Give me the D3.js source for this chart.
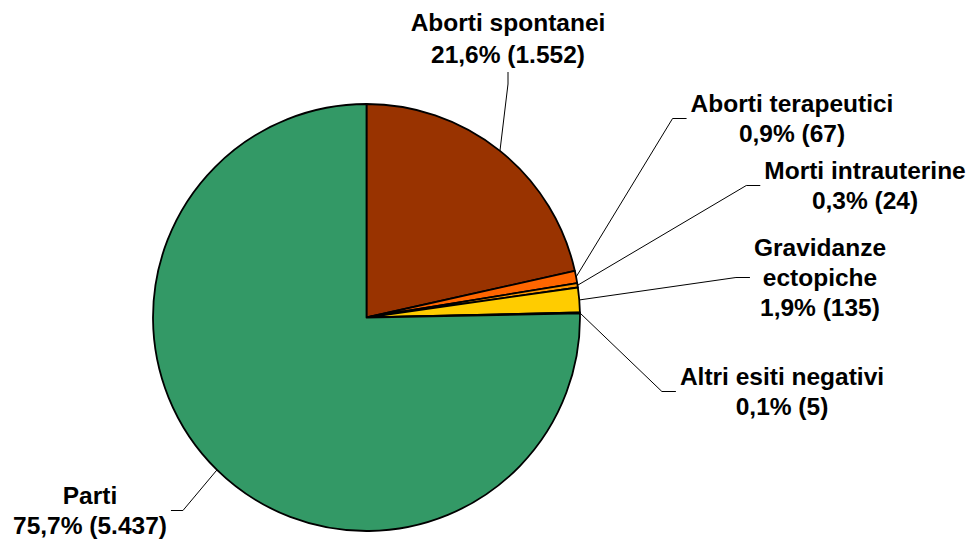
<!DOCTYPE html>
<html>
<head>
<meta charset="utf-8">
<script src="https://cdn.jsdelivr.net/npm/d3@7"></script>
<style>
  body { margin: 0; background: #fff; }
  svg { display: block; }
  .lbl { font-family: "Liberation Sans", Arial, sans-serif; font-weight: bold; font-size: 24.5px; fill: #000; }
</style>
</head>
<body>
<div id="content"></div>
<script>
// chart values
var categories = ["Aborti spontanei", "Aborti terapeutici", "Morti intrauterine", "Gravidanze ectopiche", "Altri esiti negativi", "Parti"];
var counts = [1552, 67, 24, 135, 5, 5437];
var percentLabels = ["21,6%", "0,9%", "0,3%", "1,9%", "0,1%", "75,7%"];
var countLabels = ["1.552", "67", "24", "135", "5", "5.437"];
var colors = ["#993300", "#FF6600", "#FF9900", "#FFCC00", "#CC99FF", "#339966"];

// label placement (centre x, first baseline, side where the leader attaches, text lines)
var labelLayout = [
    { cx: 508, y: 31, side: "bottom", lines: ["Aborti spontanei"], gap: 32 },
    { cx: 792, y: 112, side: "left", lines: ["Aborti terapeutici"] },
    { cx: 865, y: 179, side: "left", lines: ["Morti intrauterine"] },
    { cx: 820, y: 256, side: "left", lines: ["Gravidanze", "ectopiche"] },
    { cx: 782, y: 385, side: "left", lines: ["Altri esiti negativi"] },
    { cx: 90, y: 504, side: "right", lines: ["Parti"] }
];

var width = 976;
var height = 540;
var center = { x: 366.5, y: 317.5 };
var radius = 213.5;
var lineGap = 30;

var svg = d3.select("#content").append("svg")
    .attr("width", width)
    .attr("height", height);

var data = categories.map(function (c, i) {
    return { name: c, value: counts[i], idx: i };
});

var pie = d3.pie()
    .sort(null)
    .value(function (d) { return d.value; });

var arc = d3.arc().innerRadius(0).outerRadius(radius);
var edgeArc = d3.arc().innerRadius(radius).outerRadius(radius);

var arcs = pie(data);

var g = svg.append("g")
    .attr("transform", "translate(" + center.x + "," + center.y + ")");

g.selectAll("path.slice")
    .data(arcs)
    .enter()
    .append("path")
    .attr("class", "slice")
    .attr("d", arc)
    .attr("fill", function (d) { return colors[d.data.idx]; })
    .attr("stroke", "#000")
    .attr("stroke-width", 1.8)
    .attr("stroke-linejoin", "round");

// labels
var labels = svg.selectAll("text.lbl")
    .data(arcs)
    .enter()
    .append("text")
    .attr("class", "lbl")
    .attr("text-anchor", "middle");

labels.each(function (d) {
    var i = d.data.idx;
    var lay = labelLayout[i];
    var gap = lay.gap || lineGap;
    var lines = lay.lines.concat([percentLabels[i] + " (" + countLabels[i] + ")"]);
    var t = d3.select(this);
    lines.forEach(function (s, k) {
        t.append("tspan")
            .attr("x", lay.cx)
            .attr("y", lay.y + k * gap)
            .text(s);
    });
});

// leader lines
labels.each(function (d) {
    var i = d.data.idx;
    var lay = labelLayout[i];
    var box = this.getBBox();
    var c = edgeArc.centroid(d);
    var start = [center.x + c[0], center.y + c[1]];
    var end, elbow;
    if (lay.side === "left") {
        end = [box.x - 4, box.y + box.height / 2];
        elbow = [end[0] - 14, end[1]];
    } else if (lay.side === "right") {
        end = [box.x + box.width + 4, box.y + box.height / 2];
        elbow = [end[0] + 12, end[1]];
    } else {
        end = [lay.cx, box.y + box.height + 4];
        elbow = [end[0], end[1] + 12];
    }
    svg.append("path")
        .attr("d", d3.line()([start, elbow, end]))
        .attr("fill", "none")
        .attr("stroke", "#000")
        .attr("stroke-width", 1);
});
</script>
</body>
</html>
